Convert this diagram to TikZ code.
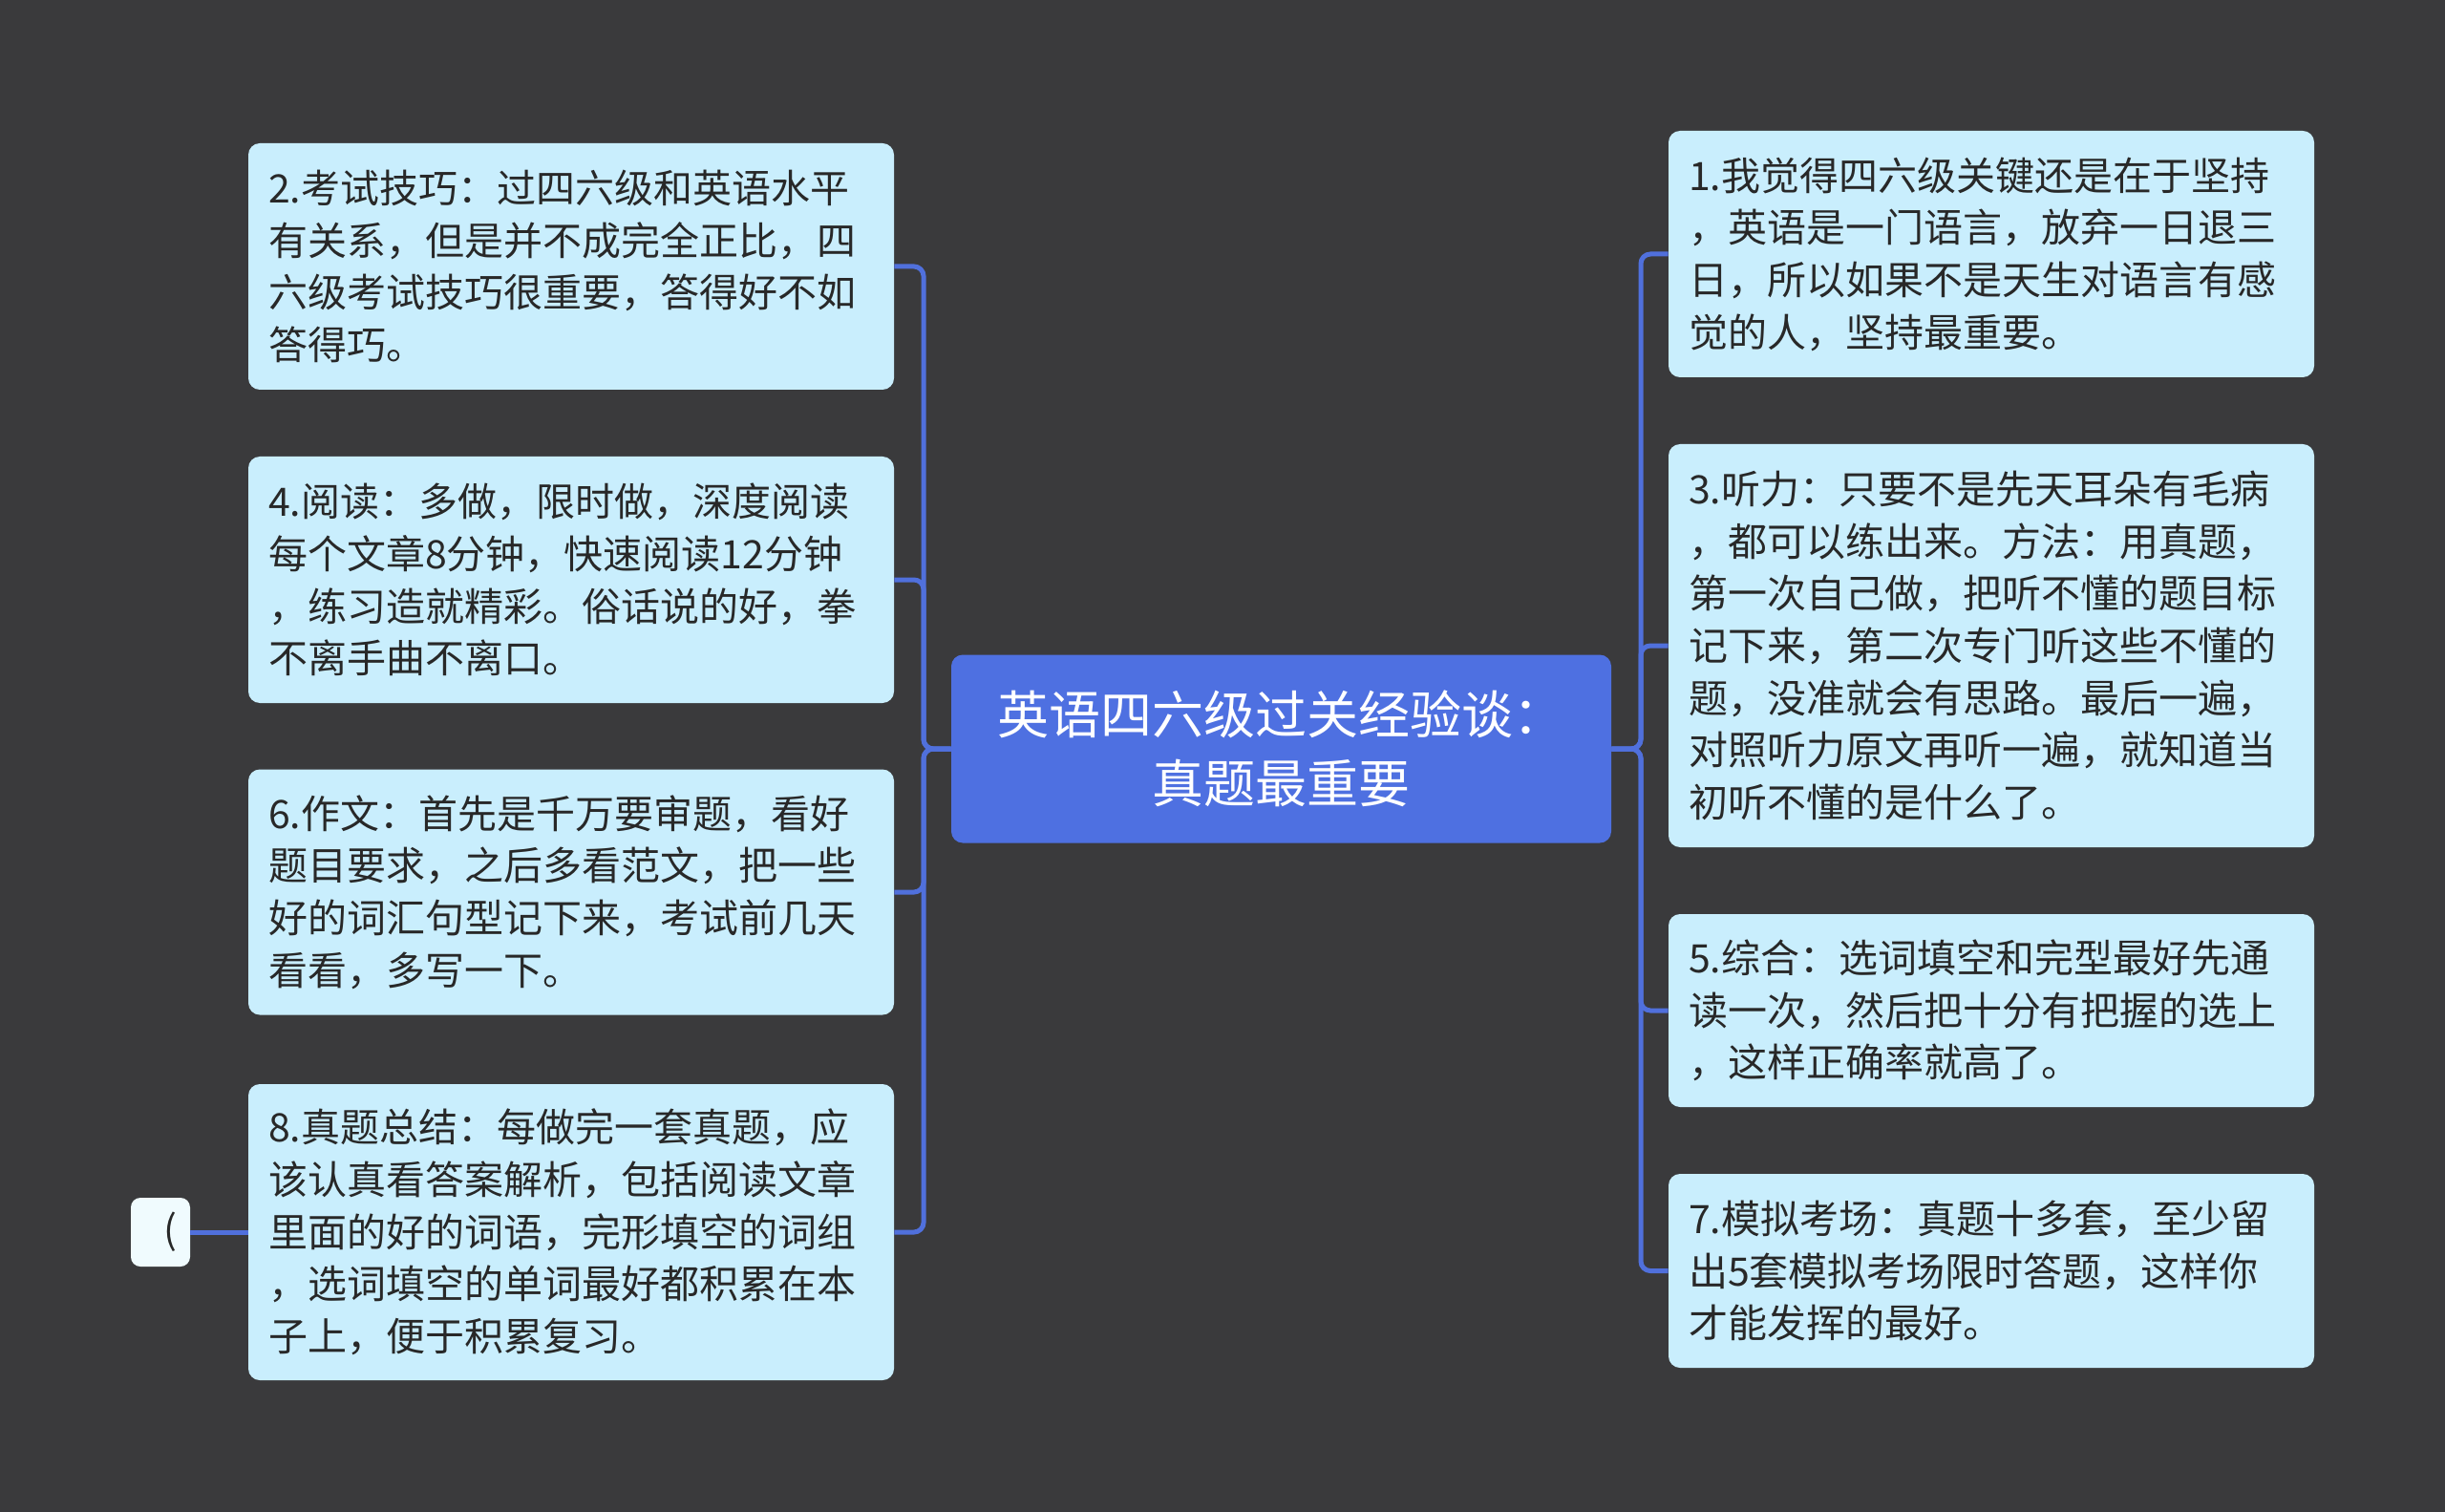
\documentclass[tikz,border=0pt]{standalone}
\usepackage{fontspec}
\setmainfont{Noto Sans CJK SC}
\usepackage{tikz}
\usetikzlibrary{positioning}
\definecolor{bgdark}{RGB}{58,58,60}
\definecolor{tipfill}{RGB}{201,238,253}
\definecolor{topicblue}{RGB}{78,112,225}
\definecolor{linkblue}{RGB}{80,112,220}
\definecolor{inktext}{RGB}{40,40,40}
\definecolor{stubfill}{RGB}{240,251,254}

\begin{document}
\begin{tikzpicture}[x=1pt,y=-1pt]
\tikzstyle{tip}=[rectangle,rounded corners=6pt,fill=tipfill,text=inktext,inner sep=10.5pt,text width=317pt,align=left,font=\fontsize{20.5}{27.35}\selectfont]
\tikzstyle{topic}=[rectangle,rounded corners=6pt,fill=topicblue,text=white,minimum width=345.5pt,minimum height=98.5pt,align=center,font=\fontsize{27}{36}\selectfont]
\tikzstyle{stub}=[rectangle,rounded corners=5pt,fill=stubfill,text=inktext,minimum width=31pt,minimum height=36pt,inner sep=0pt,font=\fontsize{20.5}{27.35}\selectfont]
\tikzstyle{link}=[draw=linkblue,line width=2.5pt,rounded corners=5pt]

\fill[bgdark] (0,0) rectangle (1280,791.5);
\useasboundingbox (0,0) rectangle (1280,791.5);

%TOPIC
\node[topic] (topic) at (670.75,392) {英语四六级过关经验谈：\\真题最重要};

%%%%%%%%%%%%%%%%%%%%%%%%%%%%%%%%%%%%%%%%%%%%%%%%%%%%%%%%%%%%%%%%%%%%%%%%
%left tips
\node[tip,minimum height=129pt] (tip2) at (299,139.5) {2.考试技巧：过四六级和英语水平\\有关系，但是并不成完全正比，四\\六级考试技巧很重要，答得好不如\\答得巧。};
\node[tip,minimum height=129pt] (tip4) at (299,303.5) {4.阅读：多做，限时做，深度阅读\\每个文章8分钟，快速阅读12分钟\\，练习造就精彩。俗话说的好，拳\\不离手曲不离口。};
\node[tip,minimum height=128.5pt] (tip6) at (299,467) {6.作文：首先是千万要审题，看好\\题目要求，之后多看范文，把一些\\好的词汇句型记下来，考试前几天\\看看，多写一下。};
\node[tip,minimum height=155pt] (tip8) at (299,645) {8.真题总结：每做完一套真题，应\\该认真看答案解析，包括阅读文章\\里面的好的词语，完形填空的词组\\，选词填空的单词最好都积累在本\\子上，便于积累复习。};
%stub
\node[stub] (stub8) at (84,645) {\hspace{10pt}(};

%%%%%%%%%%%%%%%%%%%%%%%%%%%%%%%%%%%%%%%%%%%%%%%%%%%%%%%%%%%%%%%%%%%%%%%%
%right tips
\node[tip,minimum height=129pt] (tip1) at (1042.5,133) {1.我觉得四六级关键还是在于坚持\\，英语是一门语言，放弃一日退三\\日，所以如果不是天生对语言有感\\觉的人，坚持最重要。};
\node[tip,minimum height=211pt] (tip3) at (1042.5,338) {3.听力：只要不是先天耳朵有毛病\\，都可以练出来。方法：用真题，\\第一次自己做，把听不懂的题目标\\记下来，第二次专门听这些不懂的\\题，没准就会有思路。最后一遍，\\对照听力原文再听一遍，就知道当\\初听不懂的是什么了。};
\node[tip,minimum height=101pt] (tip5) at (1042.5,529) {5.综合：选词填空和完型最好先通\\读一次，然后把十分有把握的选上\\，这样正确率就高了。};
\node[tip,minimum height=101.5pt] (tip7) at (1042.5,665.25) {7.模拟考场：真题十多套，至少留\\出5套模拟考场限时答题，这样你\\才能发挥的最好。};

%%%%%%%%%%%%%%%%%%%%%%%%%%%%%%%%%%%%%%%%%%%%%%%%%%%%%%%%%%%%%%
%LINKS
\coordinate (lspine) at (483.5,392);
\coordinate (rspine) at (859,392);

% topic->left
\draw[link] (topic.west) -- (lspine) |- (tip2.east);
\draw[link] (topic.west) -- (lspine) |- (tip4.east);
\draw[link] (topic.west) -- (lspine) |- (tip6.east);
\draw[link] (topic.west) -- (lspine) |- (tip8.east);

% topic->right
\draw[link] (topic.east) -- (rspine) |- (tip1.west);
\draw[link] (topic.east) -- (rspine) |- (tip3.west);
\draw[link] (topic.east) -- (rspine) |- (tip5.west);
\draw[link] (topic.east) -- (rspine) |- (tip7.west);

% tip8->stub
\draw[link] (tip8.west) -- (stub8.east);

\end{tikzpicture}
\end{document}
